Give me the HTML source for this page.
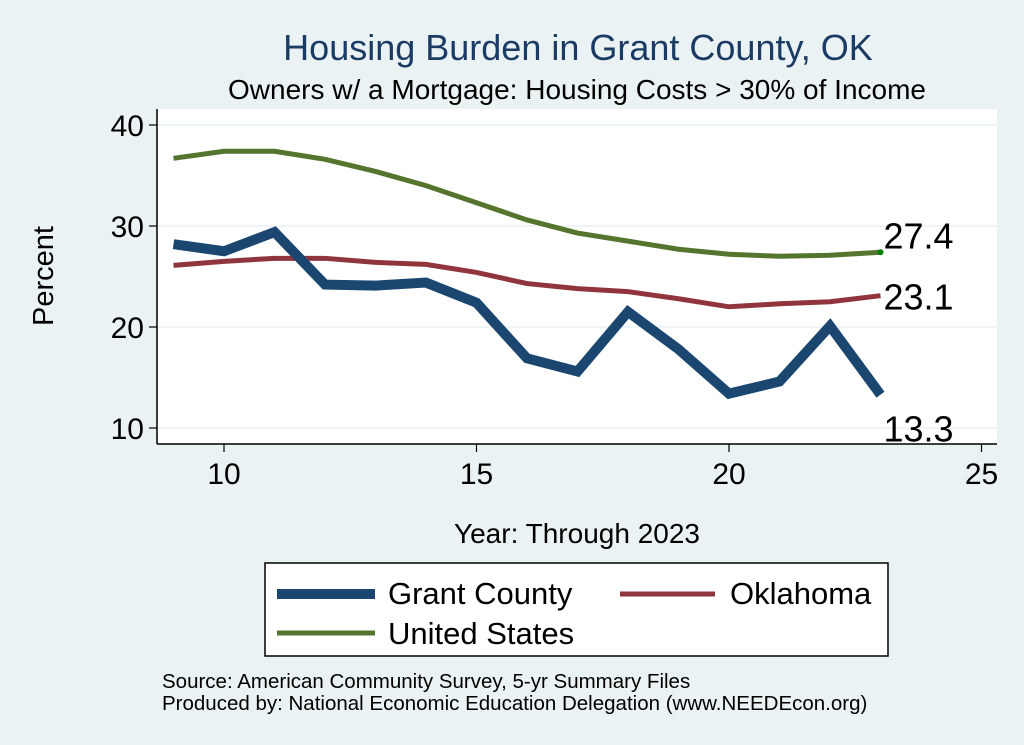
<!DOCTYPE html>
<html><head><meta charset="utf-8"><style>
body{margin:0;background:#eaf2f3;font-family:"Liberation Sans",sans-serif;}
svg{display:block}
</style></head><body>
<svg width="1024" height="745" xmlns="http://www.w3.org/2000/svg" font-family="Liberation Sans, sans-serif">
<rect width="1024" height="745" fill="#eaf2f3"/>
<rect x="157" y="109" width="840" height="335" fill="#fff"/>
<text x="578" y="60" font-size="36" fill="#1a3b63" text-anchor="middle">Housing Burden in Grant County, OK</text>
<text x="577" y="99" font-size="28" fill="#000" text-anchor="middle">Owners w/ a Mortgage: Housing Costs &gt; 30% of Income</text>
<g id="grid"></g><g id="axes"></g><g id="series"></g>
<text x="53" y="276" font-size="29" text-anchor="middle" transform="rotate(-90 53 276)">Percent</text>
<text x="577" y="543" font-size="28" text-anchor="middle">Year: Through 2023</text>
<g>
<rect x="265" y="563" width="623" height="93" fill="#fff" stroke="#000" stroke-width="1.5"/>
<line x1="277" y1="594" x2="375" y2="594" stroke="#1a4670" stroke-width="10"/>
<text x="388" y="604" font-size="31">Grant County</text>
<line x1="620" y1="594" x2="715" y2="594" stroke="#90353b" stroke-width="5"/>
<text x="730" y="604" font-size="31">Oklahoma</text>
<line x1="277" y1="633" x2="375" y2="633" stroke="#55752f" stroke-width="5"/>
<text x="388" y="644" font-size="31">United States</text>
</g>
<text x="162" y="688" font-size="20.5">Source: American Community Survey, 5-yr Summary Files</text>
<text x="162" y="710" font-size="20.5">Produced by: National Economic Education Delegation (www.NEEDEcon.org)</text>
</svg>
<script>
const years=[9,10,11,12,13,14,15,16,17,18,19,20,21,22,23];
const grant=[28.2,27.5,29.4,24.2,24.1,24.4,22.4,16.9,15.6,21.5,17.8,13.4,14.6,20.1,13.3];
const oklahoma=[26.1,26.5,26.8,26.8,26.4,26.2,25.4,24.3,23.8,23.5,22.8,22.0,22.3,22.5,23.1];
const us=[36.7,37.4,37.4,36.6,35.4,34.0,32.3,30.6,29.3,28.5,27.7,27.2,27.0,27.1,27.4];
const xTicks=[10,15,20,25];
const yTicks=[10,20,30,40];
const NS='http://www.w3.org/2000/svg';
function X(v){return 224+(v-10)*50.5;}
function Y(v){return 428-(v-10)*10.1;}
function mk(t,a,p){const e=document.createElementNS(NS,t);for(const k in a)e.setAttribute(k,a[k]);p.appendChild(e);return e;}
const grid=document.getElementById('grid'),axes=document.getElementById('axes'),ser=document.getElementById('series');
yTicks.forEach(v=>{
 const g=mk('line',{x1:157,x2:997,y1:Y(v),y2:Y(v),stroke:'#eaf2f3','stroke-width':1.5},grid);
 
 
 const t=mk('line',{x1:149,x2:157,y1:Y(v),y2:Y(v),stroke:'#000','stroke-width':1.2},axes);
 
 
 const l=mk('text',{x:144,y:Y(v)+11,'font-size':30,'text-anchor':'end'},axes);l.textContent=v;
 
 
});
xTicks.forEach(v=>{
 const t=mk('line',{x1:X(v),x2:X(v),y1:444,y2:452,stroke:'#000','stroke-width':1.2},axes);
 
 
 const l=mk('text',{x:X(v),y:484,'font-size':30,'text-anchor':'middle'},axes);l.textContent=v;
 
 
});
const ya=mk('line',{x1:157,x2:157,y1:109,y2:444,stroke:'#000','stroke-width':1.5},axes);


const xa=mk('line',{x1:157,x2:997,y1:444,y2:444,stroke:'#000','stroke-width':1.5},axes);


function line(vals,col,w,name){
 const p=mk('polyline',{points:vals.map((v,i)=>X(years[i])+','+Y(v)).join(' '),fill:'none',stroke:col,'stroke-width':w,'stroke-linejoin':'miter'},ser);
 
 
}
line(us,'#55752f',5,'line-united-states');
line(oklahoma,'#90353b',5,'line-oklahoma');
line(grant,'#1a4670',10,'line-grant-county');
const n=years.length-1;
const dot=mk('circle',{cx:X(years[n]),cy:Y(us[n]),r:3,fill:'#008000'},ser);


[[us[n],-4,'label-us-end'],[oklahoma[n],14,'label-oklahoma-end'],[grant[n],47,'label-grant-end']].forEach(([v,dy,nm])=>{
 const t=mk('text',{x:X(years[n])+3,y:Y(v)+dy,'font-size':36},ser);t.textContent=v.toFixed(1);
 
 
});
</script>
</body></html>
